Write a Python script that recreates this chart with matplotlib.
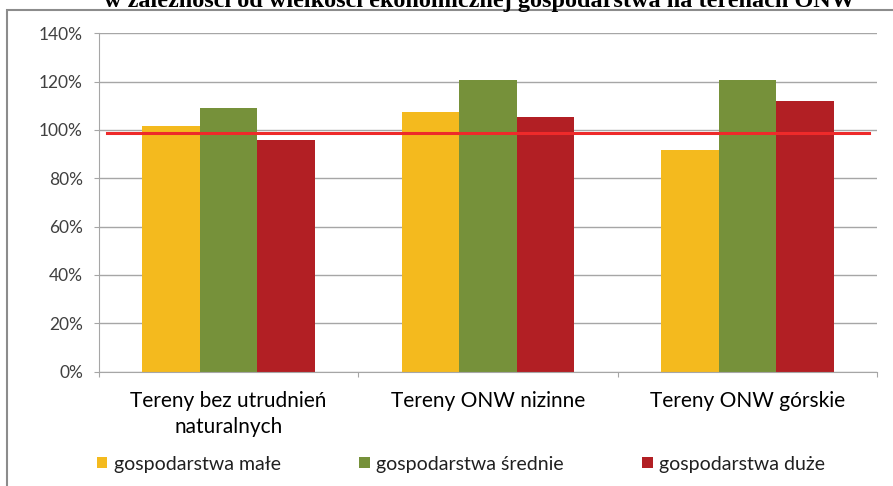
import numpy as np
import matplotlib.pyplot as plt
from matplotlib.patches import Rectangle
from matplotlib.ticker import FuncFormatter

categories = ["Tereny bez utrudnień\nnaturalnych", "Tereny ONW nizinne", "Tereny ONW górskie"]
series_names = ["gospodarstwa małe", "gospodarstwa średnie", "gospodarstwa duże"]
male = [101.8, 107.3, 91.7]
srednie = [109.2, 120.7, 120.7]
duze = [95.9, 105.5, 112.1]
reference_level = 98.6
title = "w zależności od wielkości ekonomicznej gospodarstwa na terenach ONW"

colors = ["#F4BA1E", "#76913A", "#B21F24"]
grid_color = "#A6A6A6"

plt.rcParams["font.family"] = ["Lato", "DejaVu Sans"]

fig = plt.figure(figsize=(8.93, 4.86), dpi=100)
W, H = 893, 486
ax = fig.add_axes([99 / W, 1 - 371.5 / H, (877 - 99) / W, (371.5 - 33.3) / H])

x = np.arange(len(categories))
width = 0.222
for i, (vals, name) in enumerate(zip([male, srednie, duze], series_names)):
    ax.bar(x + (i - 1) * width, vals, width, color=colors[i], label=name, zorder=2)

# reference line
ax.plot([-0.47, 2.47], [reference_level, reference_level], color="#EE2A2A", lw=2.2, zorder=3)

ax.set_xlim(-0.5, 2.5)
ax.set_ylim(0, 140)
ax.set_yticks(np.arange(0, 141, 20))
ax.yaxis.set_major_formatter(FuncFormatter(lambda v, p: f"{int(v)}%"))
ax.yaxis.grid(True, color=grid_color, lw=1.0, zorder=0)
ax.set_axisbelow(True)

ax.set_xticks([-0.5, 0.5, 1.5, 2.5])
ax.set_xticklabels([])
ax.set_xticks(x, minor=True)
ax.set_xticklabels(categories, minor=True, fontsize=15, linespacing=1.38)
ax.tick_params(axis="x", which="minor", length=0, pad=14)
ax.tick_params(axis="x", which="major", length=3.6, color=grid_color)
ax.tick_params(axis="y", length=3.6, color=grid_color, labelsize=12.5, pad=8, labelcolor="#404040")
ax.tick_params(axis="x", labelcolor="#202020")

for s in ["top", "right"]:
    ax.spines[s].set_visible(False)
for s in ["left", "bottom"]:
    ax.spines[s].set_color(grid_color)

leg = fig.legend(loc="center", bbox_to_anchor=(461 / W, 1 - 464 / H), ncol=3, frameon=False,
                 fontsize=14, handlelength=0.55, handleheight=0.55, handletextpad=0.35,
                 columnspacing=4.0)
for t in leg.get_texts():
    t.set_color("#202020")

# outer frame
fig.patches.append(Rectangle((6.7 / W, -0.1), 1.2, 1 - 9.5 / H + 0.1, transform=fig.transFigure,
                             fill=False, edgecolor="#8C8C8C", lw=1.5))

fig.text(480 / W, 1 - 7.5 / H, title, ha="center", va="baseline", fontsize=17.5,
         fontweight="bold", family="Liberation Serif")

fig.savefig("out.png", dpi=100)
